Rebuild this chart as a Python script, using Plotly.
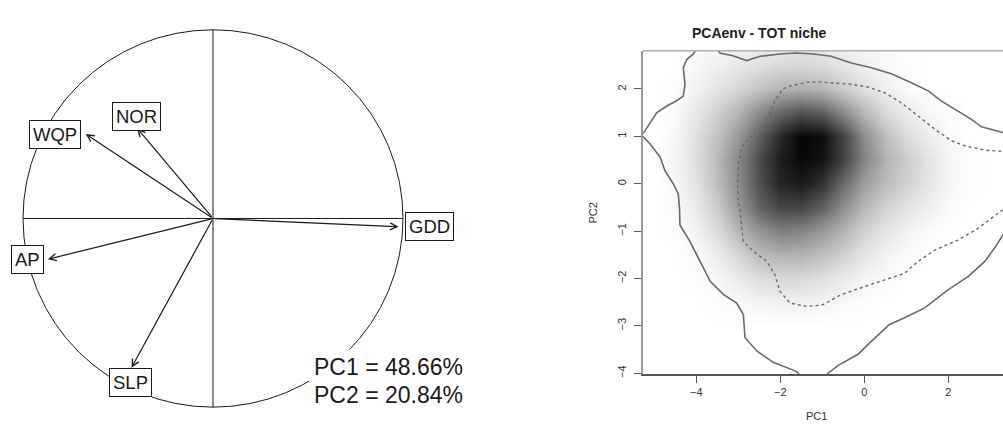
import plotly.graph_objects as go

FONT = "Liberation Sans, Arial, Helvetica, sans-serif"

# ---------------- Correlation circle (loadings on PC1 / PC2) ----------------
variables = ["GDD", "AP", "WQP", "NOR", "SLP"]
load_pc1 = [0.977, -0.869, -0.670, -0.399, -0.429]
load_pc2 = [-0.044, -0.216, 0.448, 0.478, -0.791]
label_pc1 = [1.139, -0.978, -0.831, -0.401, -0.432]
label_pc2 = [-0.045, -0.216, 0.446, 0.541, -0.868]
inertia_text = ["PC1 = 48.66%", "PC2 = 20.84%"]
inertia_pos_pc1 = 0.506
inertia_pos_pc2 = [-0.786, -0.934]

# ---------------- Environmental density (darkness, 0-100) ----------------
grid_pc1 = [-5.5, -5.0, -4.5, -4.0, -3.5, -3.0, -2.5, -2.0, -1.5, -1.0,
            -0.5, 0.0, 0.5, 1.0, 1.5, 2.0, 2.5, 3.0, 3.5]
grid_pc2 = [-4.0, -3.5, -3.0, -2.5, -2.0, -1.5, -1.0, -0.5, 0.0, 0.5,
            1.0, 1.5, 2.0, 2.5, 3.0]
density = [
    [0, 0, 0, 0, 0, 0, 0, 0, 0, 0, 0, 0, 0, 0, 0, 0, 0, 0, 0],
    [0, 0, 0, 0, 0, 0, 0, 0, 0, 0, 0, 0, 0, 0, 0, 0, 0, 0, 0],
    [0, 0, 0, 0, 0, 0, 0, 0, 0, 0, 0, 0, 0, 0, 0, 0, 0, 0, 0],
    [0, 0, 0, 0, 1, 2, 4, 5, 5, 4, 2, 1, 0, 0, 0, 0, 0, 0, 0],
    [0, 0, 0, 1, 3, 8, 13, 15, 15, 12, 8, 4, 2, 0, 0, 0, 0, 0, 0],
    [0, 0, 0, 2, 7, 16, 26, 30, 30, 25, 18, 10, 5, 2, 0, 0, 0, 0, 0],
    [0, 0, 1, 5, 14, 28, 42, 50, 48, 40, 30, 18, 10, 5, 2, 0, 0, 0, 0],
    [0, 0, 2, 8, 20, 40, 60, 72, 72, 62, 44, 28, 18, 11, 6, 2, 0, 0, 0],
    [0, 0, 3, 11, 25, 45, 68, 85, 90, 80, 58, 38, 26, 18, 10, 4, 1, 0, 0],
    [0, 0, 4, 13, 27, 46, 70, 88, 96, 93, 74, 48, 30, 20, 11, 4, 1, 0, 0],
    [0, 0, 3, 12, 24, 40, 62, 84, 98, 95, 74, 45, 26, 14, 7, 2, 0, 0, 0],
    [0, 0, 2, 9, 18, 29, 45, 60, 68, 63, 46, 28, 15, 7, 3, 1, 0, 0, 0],
    [0, 0, 1, 5, 10, 16, 23, 29, 31, 28, 20, 12, 6, 2, 0, 0, 0, 0, 0],
    [0, 0, 0, 3, 6, 9, 12, 15, 16, 14, 10, 6, 3, 1, 0, 0, 0, 0, 0],
    [0, 0, 0, 1, 3, 4, 5, 6, 7, 6, 4, 2, 1, 0, 0, 0, 0, 0, 0],
]

# Niche envelope (solid), split where it leaves the plotting window
envelope_pc1 = [-4.00, -4.07, -4.23, -4.31, -4.27, -4.31, -4.47, -4.70, -4.94, -5.10, -5.25, -5.32,
                -5.25, -5.10, -4.86, -4.75, -4.55, -4.43, -4.40, -4.39, -4.15, -3.91, -3.67, -3.35,
                -3.04, -2.88, -2.84, -2.56, -2.17, -1.65, -1.57, -1.50, None,
                -0.95, -0.86, -0.63, -0.15, 0.09, 0.60, 0.96, 1.44, 1.99, 2.47, 2.87, 3.10, 3.30, 3.40, None,
                -3.50, -3.44, -3.13, -2.80, -2.48, -2.01, -1.61, -1.21, -0.79, -0.31, 0.17, 0.64, 1.12,
                1.52, 1.83, 2.15, 2.55, 2.79, 3.02, 3.30, 3.40]
envelope_pc2 = [2.85, 2.74, 2.62, 2.45, 2.10, 1.85, 1.75, 1.64, 1.50, 1.29, 1.08, 1.03,
                0.98, 0.84, 0.56, 0.28, 0.00, -0.21, -0.52, -0.87, -1.22, -1.64, -2.06, -2.34,
                -2.52, -2.76, -3.25, -3.53, -3.77, -3.95, -4.00, -4.10, None,
                -4.10, -4.00, -3.84, -3.60, -3.39, -2.97, -2.83, -2.62, -2.24, -1.96, -1.64, -1.36, -1.08, -0.95, None,
                2.85, 2.76, 2.70, 2.60, 2.69, 2.74, 2.76, 2.74, 2.69, 2.55, 2.45, 2.32, 2.13,
                1.96, 1.75, 1.57, 1.36, 1.20, 1.15, 1.08, 1.00]

# Core niche (dashed)
core_pc1 = [3.40, 3.30, 2.87, 2.39, 2.07, 1.68, 1.28, 0.88, 0.49, 0.09, -0.31, -0.70, -1.10, -1.37,
            -1.77, -1.94, -2.13, -2.25, -2.48, -2.72, -2.92, -3.00, -3.02, -3.00, -2.96, -2.92,
            -2.88, -2.64, -2.32, -2.13, -2.01, -1.77, -1.37, -1.00, -0.55, 0.01, 0.49, 0.96,
            1.28, 1.68, 2.23, 2.71, 3.10, 3.30, 3.40]
core_pc2 = [0.66, 0.68, 0.71, 0.80, 0.91, 1.15, 1.43, 1.71, 1.92, 2.04, 2.10, 2.13, 2.15, 2.14,
            2.06, 2.00, 1.75, 1.47, 1.19, 0.98, 0.77, 0.42, 0.00, -0.42, -0.52, -0.94,
            -1.22, -1.43, -1.64, -1.92, -2.27, -2.52, -2.59, -2.56, -2.34, -2.17, -2.03, -1.89,
            -1.64, -1.40, -1.19, -0.94, -0.68, -0.55, -0.52]

x_ticks = [-4, -2, 0, 2]
y_ticks = [-4, -3, -2, -1, 0, 1, 2]

fig = go.Figure()

# ---- left panel ----
fig.add_trace(go.Scatter(x=[None], y=[None], xaxis="x", yaxis="y", showlegend=False))
line_style = dict(color="#1a1a1a", width=1)
fig.add_shape(type="circle", xref="x", yref="y", x0=-1, y0=-1, x1=1, y1=1, line=line_style)
fig.add_shape(type="line", xref="x", yref="y", x0=-1, y0=0, x1=1, y1=0, line=line_style)
fig.add_shape(type="line", xref="x", yref="y", x0=0, y0=-1, x1=0, y1=1, line=line_style)

for name, px, py in zip(variables, load_pc1, load_pc2):
    fig.add_annotation(x=px, y=py, xref="x", yref="y", ax=0, ay=0, axref="x", ayref="y",
                       text="", showarrow=True, arrowhead=5, arrowsize=1.15, arrowwidth=1.2,
                       arrowcolor="#1a1a1a", standoff=0, startstandoff=0)

for name, lx, ly in zip(variables, label_pc1, label_pc2):
    fig.add_annotation(x=lx, y=ly, xref="x", yref="y", text=name, showarrow=False,
                       font=dict(family=FONT, size=18.5, color="#1a1a1a"),
                       bgcolor="white", bordercolor="#1a1a1a", borderwidth=1, borderpad=3)

for txt, py in zip(inertia_text, inertia_pos_pc2):
    fig.add_annotation(x=inertia_pos_pc1, y=py, xref="x", yref="y", text=txt, showarrow=False,
                       xanchor="left", font=dict(family=FONT, size=23, color="#1a1a1a"),
                       bgcolor="white", borderpad=4)

# ---- right panel ----
fig.add_trace(go.Heatmap(x=grid_pc1, y=grid_pc2, z=density, xaxis="x2", yaxis="y2",
                         zmin=0, zmax=100, zsmooth="best", showscale=False,
                         colorscale=[[0, "#ffffff"], [1, "#000000"]], hoverinfo="skip"))
fig.add_trace(go.Scatter(x=envelope_pc1, y=envelope_pc2, xaxis="x2", yaxis="y2", mode="lines",
                         line=dict(color="#6a6a6a", width=1.6), connectgaps=False,
                         showlegend=False, hoverinfo="skip"))
fig.add_trace(go.Scatter(x=core_pc1, y=core_pc2, xaxis="x2", yaxis="y2", mode="lines",
                         line=dict(color="#6a6a6a", width=1.4, dash="3px,3px"),
                         showlegend=False, hoverinfo="skip"))

fig.add_shape(type="line", xref="paper", yref="paper", x0=0.6411, x1=1.0, y0=0.8822, y1=0.8822,
              line=dict(color="#b0b0b0", width=1.5))

fig.add_annotation(x=0.8265, y=0.9469, xref="paper", yref="paper", text="<b>PCAenv - TOT niche</b>",
                   showarrow=False, font=dict(family=FONT, size=14, color="#222"))
fig.add_annotation(x=829 / 1003, y=1 - 427 / 433, xref="paper", yref="paper", text="PC1",
                   showarrow=False, font=dict(family=FONT, size=11, color="#333"))
fig.add_annotation(x=593 / 1003, y=1 - 215 / 433, xref="paper", yref="paper", text="PC2",
                   textangle=-90, showarrow=False, font=dict(family=FONT, size=11, color="#333"))

fig.update_layout(
    width=1003, height=433,
    margin=dict(l=0, r=0, t=0, b=0),
    paper_bgcolor="white", plot_bgcolor="rgba(0,0,0,0)",
    showlegend=False,
    xaxis=dict(domain=[0, 0.6], range=[-1.1211, 2.0463], visible=False, fixedrange=True),
    yaxis=dict(domain=[0, 1], range=[-1.1211, 1.1579], visible=False, fixedrange=True),
    xaxis2=dict(domain=[0.6411, 1.0], range=[-5.269, 3.302], anchor="y2",
                tickvals=x_ticks, ticks="outside", ticklen=7, tickcolor="#555",
                showline=True, linecolor="#555", linewidth=1.5, showgrid=False, zeroline=False,
                tickfont=dict(family=FONT, size=11, color="#333")),
    yaxis2=dict(domain=[0.1293, 0.8822], range=[-4.025, 2.809], anchor="x2",
                tickvals=y_ticks, ticks="outside", ticklen=7, tickcolor="#555", tickangle=-90,
                ticklabelstandoff=4,
                showline=True, linecolor="#999", linewidth=1.5, showgrid=False, zeroline=False,
                tickfont=dict(family=FONT, size=11, color="#333")),
)

fig.write_html("out.html")
